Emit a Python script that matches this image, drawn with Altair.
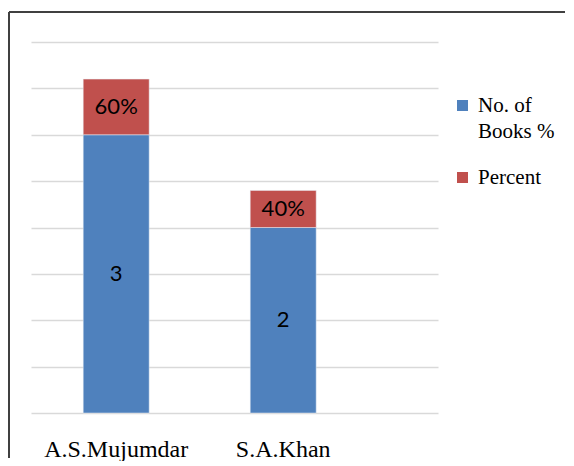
import altair as alt
import pandas as pd

authors = ["A.S.Mujumdar", "S.A.Khan"]
series = ["No. of Books %", "Percent"]
books = [3, 2]
percent = [0.6, 0.4]
blue = "#4f81bd"
red = "#c0504d"

rows = []
for i, a in enumerate(authors):
    rows.append({"author": a, "series": series[0], "value": books[i],
                 "mid": books[i] / 2, "label": f"{books[i]}", "ord": 0})
    rows.append({"author": a, "series": series[1], "value": percent[i],
                 "mid": books[i] + percent[i] / 2,
                 "label": f"{round(percent[i] * 100)}%", "ord": 1})
df = pd.DataFrame(rows)

W, H = 407, 371

xscale = alt.Scale(domain=authors, paddingInner=0.605, paddingOuter=0.521, align=0.3)
yscale = alt.Scale(domain=[0, 4], nice=False)

bars = alt.Chart(df).mark_bar(stroke="#e8eef7", strokeWidth=0.5).encode(
    x=alt.X("author:N", scale=xscale, sort=authors,
            axis=alt.Axis(title=None, labelAngle=0, domain=False, ticks=False,
                          labelFont="Liberation Serif", labelFontSize=24,
                          labelColor="#000000", labelPadding=24)),
    y=alt.Y("value:Q", stack="zero", scale=yscale,
            axis=alt.Axis(title=None, labels=False, ticks=False, domain=False,
                          values=[0, 0.5, 1, 1.5, 2, 2.5, 3, 3.5, 4],
                          gridColor="#d9d9d9", gridWidth=1.5)),
    color=alt.Color("series:N", scale=alt.Scale(domain=series, range=[blue, red]),
                    legend=alt.Legend(title=None, orient="none", legendX=421, legendY=53,
                                      labelFont="Liberation Serif", labelFontSize=21,
                                      labelColor="#000000", symbolType="square",
                                      symbolSize=121, symbolStrokeWidth=0,
                                      rowPadding=24, labelOffset=5,
                                      labelExpr="datum.label == 'No. of Books %' ? ['No. of', 'Books %'] : datum.label")),
    order=alt.Order("ord:Q"),
)

labels = alt.Chart(df).mark_text(font="Lato", fontSize=22, color="#000000",
                                 baseline="middle").encode(
    x=alt.X("author:N", scale=xscale, sort=authors),
    y=alt.Y("mid:Q", scale=yscale),
    text="label:N",
)

border_left = alt.Chart(df).mark_rule(color="#404040", strokeWidth=2).encode(
    x=alt.value(-22), y=alt.value(-30), y2=alt.value(H + 45))
border_top = alt.Chart(df).mark_rule(color="#404040", strokeWidth=2).encode(
    x=alt.value(-22), x2=alt.value(534), y=alt.value(-30))

chart = alt.layer(bars, labels, border_left, border_top).properties(
    width=W, height=H,
    background="#ffffff",
    padding={"left": 0, "top": 3, "right": 0, "bottom": 0},
).configure(
    view={"strokeWidth": 0},
    style={"guide-label": {"lineHeight": 26}},
)

chart.save("out.html", embed_options={"renderer": "svg", "actions": False})
